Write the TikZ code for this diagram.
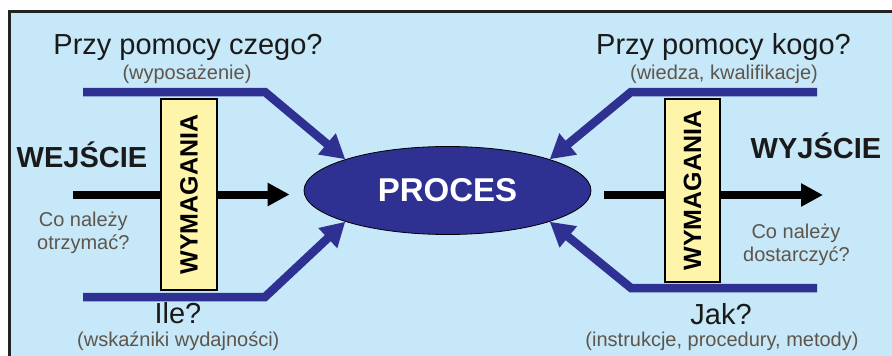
\documentclass[tikz,border=0pt]{standalone}
\usepackage{fontspec}
\setmainfont{Liberation Sans}
\usetikzlibrary{arrows.meta,shapes.geometric}
\definecolor{bgblue}{HTML}{C6E8F8}
\definecolor{procblue}{HTML}{2E3192}
\definecolor{reqyellow}{HTML}{FFF5AA}
\definecolor{subgray}{HTML}{5E554C}
\definecolor{framegray}{HTML}{222222}
\definecolor{titleblack}{HTML}{1A1A1A}
\begin{document}
\begin{tikzpicture}[x=1pt,y=-1pt,
  title/.style={anchor=base, font=\fontsize{29}{34}\selectfont, text=titleblack, inner sep=0},
  sub/.style={anchor=base, font=\fontsize{20}{23}\selectfont, text=subgray, inner sep=0},
  io/.style={anchor=base, font=\fontsize{29}{34}\selectfont\bfseries, text=titleblack, inner sep=0},
  reqbox/.style={draw=black, line width=2.2pt, fill=reqyellow, rotate=90,
    font=\fontsize{25}{30}\selectfont\bfseries, inner sep=0},
  res/.style={draw=procblue, line width=8.5pt, line join=miter,
    -{Triangle[length=24pt,width=26pt]}},
  flow/.style={draw=black, line width=8pt, -{Triangle[length=22pt,width=22pt]}}]
\useasboundingbox (0,0) rectangle (892,356);
\fill[white] (0,0) rectangle (892,356);
\begin{scope}
  \clip (0,0) rectangle (892,356);
  \draw[framegray, line width=2.5pt, fill=bgblue] (9.5,11.5) rectangle (905,370);
\end{scope}

% process
\node[ellipse, draw=black, line width=0.8pt, fill=procblue, minimum width=287pt,
  minimum height=88pt, inner sep=0, text=white,
  font=\fontsize{33}{40}\selectfont\bfseries] (proc) at (447.5,190.5) {PROCES};

% coordinates
\coordinate (tlA) at (83,92);   \coordinate (tlB) at (265,92);
\coordinate (trA) at (817,92);  \coordinate (trB) at (631,92);
\coordinate (blA) at (83,297);  \coordinate (blB) at (265,297);
\coordinate (brA) at (817,288); \coordinate (brB) at (631,288);
\coordinate (inL) at (73,194.5);
\coordinate (outR) at (823,195);

% flow arrows
\draw[flow] (inL) -- ([xshift=-14pt]inL -| proc.west);
\draw[flow] ([xshift=13pt]outR -| proc.east) -- (outR);

% requirement boxes
\node[reqbox, minimum width=191pt, minimum height=56pt] (reqL) at (189,194.5) {WYMAGANIA};
\node[reqbox, minimum width=183pt, minimum height=55pt] (reqR) at (692.5,190.5) {WYMAGANIA};

% resource arrows
\draw[res] (tlA) -- (tlB) -- (proc.163);
\draw[res] (trA) -- (trB) -- (proc.17);
\draw[res] (blA) -- (blB) -- (proc.197);
\draw[res] (brA) -- (brB) -- (proc.343);

% texts
\node[title] (t1) at (188,54) {Przy pomocy czego?};
\node[sub] (s1) at (187,79) {(wyposażenie)};
\node[title] (t2) at (723.5,54) {Przy pomocy kogo?};
\node[sub] (s2) at (724,79) {(wiedza, kwalifikacje)};
\node[io] (we) at (82,167) {WEJŚCIE};
\node[io] (wy) at (816,158) {WYJŚCIE};
\node[sub] (cl1) at (83.3,226) {Co należy};
\node[sub] (cl2) at (83.3,249.5) {otrzymać?};
\node[sub] (cr1) at (796,238) {Co należy};
\node[sub] (cr2) at (796.5,261) {dostarczyć?};
\node[title] (t3) at (178,323) {Ile?};
\node[sub] (s3) at (178.3,346) {(wskaźniki wydajności)};
\node[title] (t4) at (721,324) {Jak?};
\node[sub] (s4) at (722,346) {(instrukcje, procedury, metody)};
\end{tikzpicture}
\end{document}
